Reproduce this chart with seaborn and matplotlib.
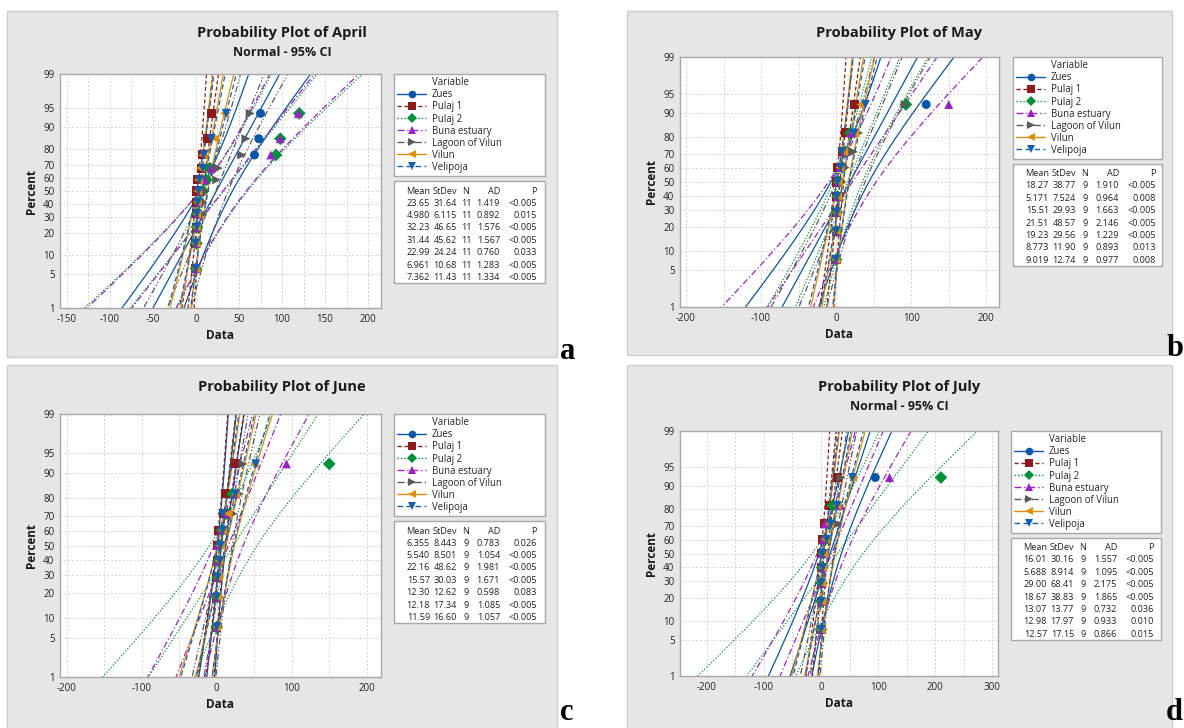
import numpy as np
import pandas as pd
import matplotlib
matplotlib.use('Agg')
import matplotlib.pyplot as plt
from matplotlib.lines import Line2D
from matplotlib.patches import Rectangle
import seaborn as sns
from statistics import NormalDist

# series shared by all four months
variables = ['Zues', 'Pulaj 1', 'Pulaj 2', 'Buna estuary', 'Lagoon of Vilun', 'Vilun', 'Velipoja']
colors = ['#0A56A8', '#8E1B1B', '#00903A', '#9A22C4', '#5A5A5A', '#E08E0B', '#1560AE']
line_styles = ['-', (0, (3, 2)), (0, (1, 1.5)), (0, (5, 2, 1, 2)),
               (0, (5, 2, 1, 1.5, 1, 2)), '-', (0, (4, 2.5))]
markers = ['o', 's', 'D', '^', '>', '<', 'v']

# April (n = 11)
april_values = [
    [0, 1, 2, 3, 5, 7, 10, 16, 68, 73, 75],
    [0, 0, 0.5, 0.5, 1, 1, 1.5, 7, 8, 13, 18],
    [0, 0.5, 1, 2, 4, 8, 12, 16, 93, 98, 120],
    [0, 0.5, 1, 2, 4, 6, 10, 18, 87, 98, 119],
    [0, 1, 2, 8, 8, 10, 24, 26, 53, 58, 63],
    [0, 0, 0.5, 1, 1.5, 2, 3, 5, 8, 22, 33],
    [0, 0, 1, 1, 2, 3, 4, 8, 9, 18, 35],
]
april_mean = [23.65, 4.980, 32.23, 31.44, 22.99, 6.961, 7.362]
april_sd = [31.64, 6.115, 46.65, 45.62, 24.24, 10.68, 11.43]
april_ad = [1.419, 0.892, 1.576, 1.567, 0.760, 1.283, 1.334]
april_p = ['<0.005', '0.015', '<0.005', '<0.005', '0.033', '<0.005', '<0.005']

# May (n = 9)
may_values = [
    [0, 0.5, 1, 2, 3, 5, 12, 20, 120],
    [0, 0, 0, 0.5, 1, 1.5, 8, 12, 24],
    [0, 0.5, 1, 2, 4, 8, 12, 19, 93],
    [0, 0.5, 1, 2, 3, 5, 12, 20, 150],
    [0, 1, 2, 5, 8, 12, 23, 30, 92],
    [0, 0, 1, 2, 3, 5, 10, 25, 33],
    [0, 0, 1, 1, 2, 6, 8, 24, 39],
]
may_mean = [18.27, 5.171, 15.51, 21.51, 19.23, 8.773, 9.019]
may_sd = [38.77, 7.524, 29.93, 48.57, 29.56, 11.90, 12.74]
may_ad = [1.910, 0.964, 1.663, 2.146, 1.229, 0.893, 0.977]
may_p = ['<0.005', '0.008', '<0.005', '<0.005', '<0.005', '0.013', '0.008']

# June (n = 9)
june_values = [
    [0, 0, 1, 2, 3, 5, 8, 14, 24],
    [0, 0, 0, 0.5, 0.5, 2, 9, 12, 25],
    [0, 0.5, 1, 2, 4, 7, 14, 21, 150],
    [0, 0, 0, 0.5, 1, 6, 14, 25, 93],
    [0, 1, 2, 4, 6, 10, 22, 30, 35],
    [0, 1, 2, 3, 5, 8, 15, 25, 50],
    [0, 0, 1, 4, 5, 8, 8, 25, 52],
]
june_mean = [6.355, 5.540, 22.16, 15.57, 12.30, 12.18, 11.59]
june_sd = [8.443, 8.501, 48.62, 30.03, 12.62, 17.34, 16.60]
june_ad = [0.783, 1.054, 1.981, 1.671, 0.598, 1.085, 1.057]
june_p = ['0.026', '<0.005', '<0.005', '<0.005', '0.083', '<0.005', '<0.005']

# July (n = 9)
july_values = [
    [0, 0.5, 1, 2, 4, 8, 14, 20, 95],
    [0, 0, 0, 0.5, 1, 2, 6, 14, 28],
    [0, 0.5, 1, 2, 4, 8, 15, 20.5, 210],
    [0, 0, 0.5, 1, 1.5, 4, 7, 34, 120],
    [0, 1, 2, 3, 5, 12, 30, 30, 35],
    [0, 1, 2, 3, 5, 8, 15, 28, 55],
    [0, 0, 0, 3, 3, 10, 17, 28, 55],
]
july_mean = [16.01, 5.688, 29.00, 18.67, 13.07, 12.98, 12.57]
july_sd = [30.16, 8.914, 68.41, 38.83, 13.77, 17.97, 17.15]
july_ad = [1.557, 1.095, 2.175, 1.865, 0.732, 0.933, 0.866]
july_p = ['<0.005', '<0.005', '<0.005', '<0.005', '0.036', '0.010', '0.015']

pct_ticks = [1, 5, 10, 20, 30, 40, 50, 60, 70, 80, 90, 95, 99]

sns.set_style('white')
plt.rcParams['font.family'] = ['Open Sans', 'DejaVu Sans']
plt.rcParams['axes.unicode_minus'] = False

W, H = 1184, 728
fig = plt.figure(figsize=(W / 100, H / 100), dpi=100)

nd = NormalDist()
_ppf = np.vectorize(lambda q: nd.inv_cdf(min(max(q, 1e-9), 1 - 1e-9)), otypes=[float])
_cdf = np.vectorize(nd.cdf, otypes=[float])


def fwd(p):
    return _ppf(np.asarray(p, float) / 100)


def inv(z):
    return _cdf(np.asarray(z, float)) * 100


def fx(px):
    return px / W


def fy(py):
    return 1 - py / H


def fmt4(v):
    d = max(0, 3 - int(np.floor(np.log10(abs(v)))))
    return f'{v:.{d}f}'


def draw_panel(title, sub, letter_txt, values, means, sds, ads, ps, panel, axbox, xlim, xticks, minor,
               leg, letter):
    # gray background of the Minitab graph
    x0, y0, x1, y1 = panel
    fig.add_artist(Rectangle((fx(x0), fy(y1)), fx(x1 - x0), (y1 - y0) / H, transform=fig.transFigure,
                             facecolor='#E6E6E6', edgecolor='#CDCDCD', lw=1, zorder=0))
    cx = (x0 + x1) / 2
    ty = y0 + 22
    fig.text(fx(cx), fy(ty), title, ha='center', va='center', fontsize=10.5, fontweight='bold', color='#1a1a1a')
    if sub:
        fig.text(fx(cx), fy(ty + 19), 'Normal - 95% CI', ha='center', va='center', fontsize=9,
                 fontweight='bold', color='#1a1a1a')

    a0, b0, a1, b1 = axbox
    ax = fig.add_axes([fx(a0), fy(b1), (a1 - a0) / W, (b1 - b0) / H])
    ax.set_facecolor('white')
    ax.set_yscale('function', functions=(fwd, inv))

    rows = []
    for name, vals in zip(variables, values):
        n = len(vals)
        for i, v in enumerate(sorted(vals), start=1):
            rows.append({'Variable': name, 'Data': v, 'Percent': (i - 0.3) / (n + 0.4) * 100})
    df = pd.DataFrame(rows)

    pgrid = np.linspace(0.5, 99.5, 240)
    z = fwd(pgrid)
    for k, name in enumerate(variables):
        n = len(values[k])
        m, s = means[k], sds[k]
        fit = m + z * s
        half = 1.96 * s * np.sqrt(1 / n + z ** 2 / (2 * n))
        for xs in (fit, fit - half, fit + half):
            ax.plot(xs, pgrid, color=colors[k], ls=line_styles[k], lw=0.9, zorder=2)

    sns.scatterplot(data=df, x='Data', y='Percent', hue='Variable', style='Variable',
                    hue_order=variables, style_order=variables,
                    palette=dict(zip(variables, colors)), markers=dict(zip(variables, markers)),
                    s=42, linewidth=0, legend=False, ax=ax, zorder=5)

    ax.set_ylim(1, 99)
    ax.set_yticks(pct_ticks)
    ax.set_yticklabels([str(t) for t in pct_ticks])
    ax.yaxis.set_minor_locator(matplotlib.ticker.NullLocator())
    ax.set_xticks(xticks)
    ax.set_xticks(np.arange(-400, 401, minor), minor=True)
    ax.set_xlim(*xlim)
    ax.grid(True, which='both', axis='x', color='#D2D2D2', lw=0.7, ls=(0, (2, 2)), zorder=0)
    ax.grid(True, which='major', axis='y', color='#D2D2D2', lw=0.7, ls=(0, (2, 2)), zorder=0)
    ax.tick_params(axis='both', labelsize=7, length=2, color='#888888', pad=2, labelcolor='#222222')
    ax.tick_params(axis='x', which='minor', length=0)
    for sp in ax.spines.values():
        sp.set_color('#A8A8A8')
        sp.set_linewidth(1)
    ax.set_xlabel('Data', fontsize=8.5, fontweight='bold', labelpad=3, color='#1a1a1a')
    ax.set_ylabel('Percent', fontsize=8.5, fontweight='bold', labelpad=4, color='#1a1a1a')

    # legend box
    l0, lt, l1 = leg
    handles = [Line2D([], [], ls='none')]
    for k, name in enumerate(variables):
        handles.append(Line2D([], [], color=colors[k], ls=line_styles[k], lw=1, marker=markers[k],
                              markersize=5.5, markeredgewidth=0))
    lg = fig.legend(handles, ['Variable'] + variables, loc='upper left',
                    bbox_to_anchor=(fx(l0), fy(lt + 103), (l1 - l0) / W, 103 / H), mode='expand',
                    fontsize=6.9, frameon=True, fancybox=False, framealpha=1, edgecolor='#A8A8A8',
                    borderpad=0.35, labelspacing=0.11, handlelength=3.0, handletextpad=0.6,
                    borderaxespad=0)
    lg.get_frame().set_linewidth(1)

    # statistics table
    tt = lt + 107
    th = 102
    fig.add_artist(Rectangle((fx(l0), fy(tt + th)), (l1 - l0) / W, th / H, transform=fig.transFigure,
                             facecolor='white', edgecolor='#A8A8A8', lw=1, zorder=3))
    cols = [(l0 + 36, 'right'), (l0 + 63, 'right'), (l0 + 72, 'center'), (l0 + 106, 'right'), (l0 + 143, 'right')]
    header = ['Mean', 'StDev', 'N', 'AD', 'P']
    for (xc, ha), h in zip(cols, header):
        fig.text(fx(xc), fy(tt + 10), h, ha=ha, va='center', fontsize=6.6, color='#222222', zorder=4)
    for r in range(len(variables)):
        cells = [fmt4(means[r]), fmt4(sds[r]), str(len(values[r])), f'{ads[r]:.3f}', ps[r]]
        yy = tt + 22 + r * 12.4
        for (xc, ha), c in zip(cols, cells):
            fig.text(fx(xc), fy(yy), c, ha=ha, va='center', fontsize=6.6, color='#222222', zorder=4)

    lx, ly = letter
    fig.text(fx(lx), fy(ly), letter_txt, ha='left', va='bottom', fontsize=22,
             fontweight='bold', family=['Liberation Serif', 'DejaVu Serif'], color='black')
    return ax


draw_panel('Probability Plot of April', True, 'a', april_values, april_mean, april_sd, april_ad, april_p,
           (7, 11, 557, 357), (60, 74, 381, 308), (-158, 215), np.arange(-150, 201, 50), 25,
           (394, 74, 545), (560, 366))
draw_panel('Probability Plot of May', False, 'b', may_values, may_mean, may_sd, may_ad, may_p,
           (627, 11, 1172, 355), (680, 57, 999, 307), (-208, 217), np.arange(-200, 201, 100), 50,
           (1013, 57, 1162), (1167, 363))
draw_panel('Probability Plot of June', False, 'c', june_values, june_mean, june_sd, june_ad, june_p,
           (7, 365, 557, 740), (60, 414, 381, 677), (-209, 219), np.arange(-200, 201, 100), 50,
           (394, 414, 545), (560, 727))
draw_panel('Probability Plot of July', True, 'd', july_values, july_mean, july_sd, july_ad, july_p,
           (627, 365, 1172, 740), (680, 431, 998, 676), (-247, 310), np.arange(-200, 301, 100), 50,
           (1011, 431, 1161), (1166, 727))

fig.savefig('out.png', dpi=100, facecolor='white')
